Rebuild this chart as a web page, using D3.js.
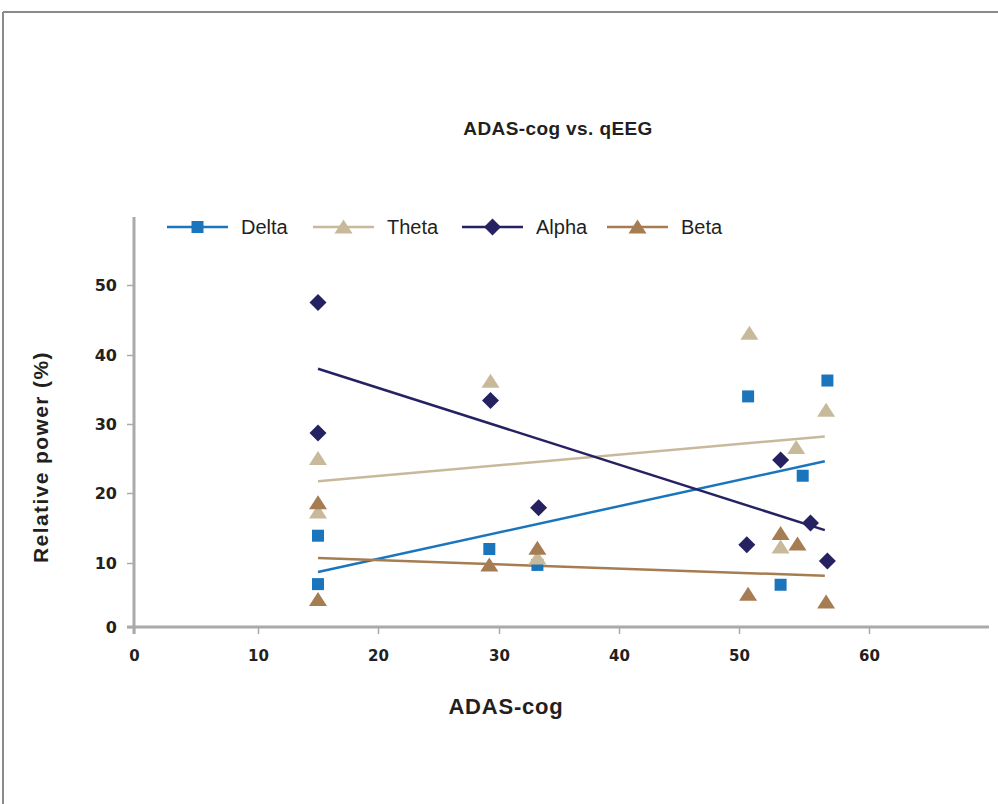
<!DOCTYPE html>
<html><head><meta charset="utf-8">
<script src="https://cdn.jsdelivr.net/npm/d3@7"></script>
<style>body{margin:0;background:#fff}svg{display:block}</style>
</head><body>
<svg id="c" width="998" height="804"></svg>
<script>
const seriesNames = ["Delta","Theta","Alpha","Beta"];
const seriesColors = ["#1b75bc","#c8b99b","#262262","#a67c52"];
const seriesShapes = ["square","triangle","diamond","triangle"];
const deltaX = [15,15,29.2,33.2,50.7,53.2,54.9,56.8];
const deltaY = [13.9,6.7,12.0,9.7,34.0,6.6,22.5,36.3];
const thetaX = [15,15,29.3,33.2,50.8,53.2,54.4,56.7];
const thetaY = [25.0,17.3,36.2,10.7,43.1,12.3,26.6,32.0];
const alphaX = [15,15,29.3,33.3,50.6,53.2,55.5,56.8];
const alphaY = [47.5,28.7,33.4,17.9,12.6,24.8,15.7,10.3];
const betaX = [15,15,29.2,33.2,50.7,53.2,54.5,56.7];
const betaY = [18.6,4.3,9.7,12.1,5.1,14.2,12.7,3.9];
const trendX = [15,56.6];
const deltaTrend = [8.6,24.6];
const thetaTrend = [21.7,28.2];
const alphaTrend = [38.0,14.7];
const betaTrend = [10.7,8.0];
const xTicks = [0,10,20,30,40,50,60];
const yTicks = [0,10,20,30,40,50];

const series = [
  {x:deltaX,y:deltaY,t:deltaTrend},
  {x:thetaX,y:thetaY,t:thetaTrend},
  {x:alphaX,y:alphaY,t:alphaTrend},
  {x:betaX,y:betaY,t:betaTrend}
].map((s,i)=>({...s,name:seriesNames[i],color:seriesColors[i],shape:seriesShapes[i]}));

const svg = d3.select("#c");
// frame
svg.append("line").attr("x1",3).attr("x2",998).attr("y1",12).attr("y2",12).attr("stroke","#8a8a8a").attr("stroke-width",2);
svg.append("line").attr("x1",3).attr("x2",3).attr("y1",12).attr("y2",804).attr("stroke","#8a8a8a").attr("stroke-width",2);

// scales (piecewise to follow the reference's tick spacing)
const x = d3.scaleLinear().domain([0,10,20,30,40,50,60,70]).range([134,258,378,499,619,739,869,989]);
const y = d3.scaleLinear().domain([0,10,20,30,40,50,60]).range([627,563,493,424,355,285,217]);
const axisColor = "#aaaaaa";

// title
svg.append("text").attr("x",558).attr("y",135).attr("text-anchor","middle")
  .attr("font-family","Liberation Sans, Arial, sans-serif").attr("font-weight","bold").attr("font-size",19)
  .attr("letter-spacing",0.4).attr("fill","#231f20").text("ADAS-cog vs. qEEG");

// axes
const gx = svg.append("g").attr("transform",`translate(0,${y(0)})`)
  .call(d3.axisBottom(x).tickValues(xTicks).tickSize(7).tickPadding(16).tickFormat(d3.format("d")));
gx.select(".domain").remove();
gx.selectAll(".tick line").attr("stroke",axisColor).attr("stroke-width",1.5);
gx.selectAll(".tick text").attr("font-family","DejaVu Sans, sans-serif").attr("font-weight","bold").attr("font-size",15).attr("fill","#231f20");

const gy = svg.append("g").attr("transform",`translate(${x(0)},0)`)
  .call(d3.axisLeft(y).tickValues(yTicks).tickSize(7).tickPadding(10).tickFormat(d3.format("d")));
gy.select(".domain").remove();
gy.selectAll(".tick line").attr("stroke",axisColor).attr("stroke-width",1.5);
gy.selectAll(".tick text").attr("font-family","DejaVu Sans, sans-serif").attr("font-weight","bold").attr("font-size",16).attr("fill","#231f20");

svg.append("line").attr("x1",x(0)-7).attr("x2",x(70)).attr("y1",y(0)).attr("y2",y(0)).attr("stroke",axisColor).attr("stroke-width",3);
svg.append("line").attr("x1",x(0)).attr("x2",x(0)).attr("y1",y(60)).attr("y2",y(0)+7).attr("stroke",axisColor).attr("stroke-width",3);

// axis titles
svg.append("text").attr("transform",`translate(48,457) rotate(-90)`).attr("text-anchor","middle")
  .attr("font-family","Liberation Sans, Arial, sans-serif").attr("font-weight","bold").attr("font-size",21)
  .attr("letter-spacing",1.4).attr("fill","#231f20").text("Relative power (%)");
svg.append("text").attr("x",506).attr("y",714).attr("text-anchor","middle")
  .attr("font-family","Liberation Sans, Arial, sans-serif").attr("font-weight","bold").attr("font-size",22)
  .attr("letter-spacing",0.8).attr("fill","#231f20").text("ADAS-cog");

function symbolPath(shape){
  if(shape==="square") return d3.symbol(d3.symbolSquare,144)();
  if(shape==="diamond") return "M0,-8.5L8.5,0L0,8.5L-8.5,0Z";
  return "M0,-7.5L9,6.5L-9,6.5Z";
}

// trend lines
const plot = svg.append("g");
series.forEach(s=>{
  plot.append("line").attr("x1",x(trendX[0])).attr("x2",x(trendX[1]))
    .attr("y1",y(s.t[0])).attr("y2",y(s.t[1]))
    .attr("stroke",s.color).attr("stroke-width",2.5);
});
// points
series.forEach(s=>{
  plot.append("g").selectAll("path").data(s.x.map((v,i)=>[v,s.y[i]])).join("path")
    .attr("transform",d=>`translate(${x(d[0])},${y(d[1])})`)
    .attr("d",symbolPath(s.shape)).attr("fill",s.color);
});

// legend
const legX = [167,313,462,607];
const legY = 227;
series.forEach((s,i)=>{
  const g = svg.append("g").attr("transform",`translate(${legX[i]},${legY})`);
  g.append("line").attr("x1",0).attr("x2",61).attr("y1",0).attr("y2",0).attr("stroke",s.color).attr("stroke-width",2.5);
  g.append("path").attr("transform","translate(30.5,0)").attr("d",symbolPath(s.shape)).attr("fill",s.color);
  g.append("text").attr("x",74).attr("y",7).attr("font-family","Liberation Sans, Arial, sans-serif")
    .attr("font-size",20).attr("fill","#231f20").text(s.name);
});
</script>
</body></html>
